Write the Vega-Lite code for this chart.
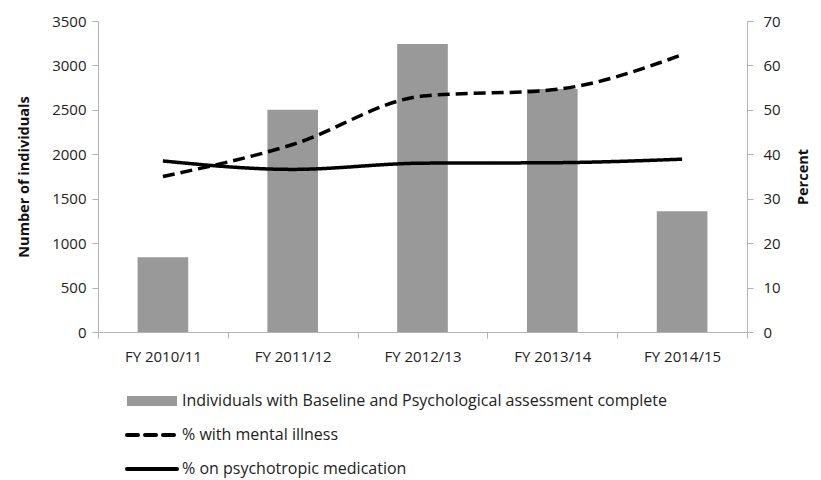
{
  "$schema": "https://vega.github.io/schema/vega-lite/v6.json",
  "autosize": "none",
  "width": 649,
  "height": 311,
  "padding": {"left": 98, "top": 21, "right": 74, "bottom": 148},
  "background": "white",
  "config": {
    "view": {"stroke": null},
    "font": "Open Sans",
    "axis": {
      "labelFont": "Open Sans",
      "labelFontSize": 15,
      "labelColor": "#222222",
      "titleFont": "Open Sans",
      "titleFontSize": 14.5,
      "titleFontWeight": "bold",
      "titleColor": "#111111",
      "domainColor": "#b3b3b3",
      "tickColor": "#b3b3b3",
      "tickSize": 6,
      "grid": false
    },
    "legend": {
      "labelFont": "Open Sans",
      "labelFontSize": 16,
      "labelColor": "#222222",
      "labelLimit": 0
    }
  },
  "datasets": {
    "bars": [
      {"year": "FY 2010/11", "series": "Individuals with Baseline and Psychological assessment complete", "n": 840},
      {"year": "FY 2011/12", "series": "Individuals with Baseline and Psychological assessment complete", "n": 2500},
      {"year": "FY 2012/13", "series": "Individuals with Baseline and Psychological assessment complete", "n": 3240},
      {"year": "FY 2013/14", "series": "Individuals with Baseline and Psychological assessment complete", "n": 2735},
      {"year": "FY 2014/15", "series": "Individuals with Baseline and Psychological assessment complete", "n": 1358}
    ],
    "lines": [
      {"year": "FY 2010/11", "series": "% with mental illness", "pct": 35.0},
      {"year": "FY 2011/12", "series": "% with mental illness", "pct": 42.2},
      {"year": "FY 2012/13", "series": "% with mental illness", "pct": 53.1},
      {"year": "FY 2013/14", "series": "% with mental illness", "pct": 54.5},
      {"year": "FY 2014/15", "series": "% with mental illness", "pct": 62.4},
      {"year": "FY 2010/11", "series": "% on psychotropic medication", "pct": 38.5},
      {"year": "FY 2011/12", "series": "% on psychotropic medication", "pct": 36.6},
      {"year": "FY 2012/13", "series": "% on psychotropic medication", "pct": 38.0},
      {"year": "FY 2013/14", "series": "% on psychotropic medication", "pct": 38.1},
      {"year": "FY 2014/15", "series": "% on psychotropic medication", "pct": 38.9}
    ]
  },
  "encoding": {
    "x": {
      "field": "year",
      "type": "nominal",
      "sort": null,
      "scale": {"paddingInner": 0, "paddingOuter": 0},
      "axis": {"title": null, "labelAngle": 0, "tickBand": "extent", "labelPadding": 11}
    }
  },
  "layer": [
    {
      "data": {"name": "bars"},
      "mark": {"type": "bar", "width": {"band": 0.39}, "color": "#999999"},
      "encoding": {
        "y": {
          "field": "n",
          "type": "quantitative",
          "scale": {"domain": [0, 3500]},
          "axis": {"title": "Number of individuals", "format": "d", "values": [0, 500, 1000, 1500, 2000, 2500, 3000, 3500], "labelPadding": 6, "titlePadding": 20}
        },
        "color": {
          "field": "series",
          "type": "nominal",
          "scale": {
            "domain": ["Individuals with Baseline and Psychological assessment complete", "% with mental illness", "% on psychotropic medication"],
            "range": ["#999999", "#000000", "#000000"]
          },
          "legend": {
            "title": null,
            "orient": "none",
            "legendX": 46,
            "legendY": 372,
            "direction": "vertical",
            "padding": 0,
            "symbolSize": 625,
            "labelOffset": 22,
            "rowPadding": 18,
            "encode": {
              "symbols": {
                "update": {
                  "shape": {"signal": "datum.value === 'Individuals with Baseline and Psychological assessment complete' ? 'M-2,-0.4H2V0.4H-2Z' : 'M-2,0H2'"},
                  "fill": {"signal": "datum.value === 'Individuals with Baseline and Psychological assessment complete' ? '#999999' : 'transparent'"},
                  "stroke": {"signal": "datum.value === 'Individuals with Baseline and Psychological assessment complete' ? 'transparent' : '#000000'"},
                  "strokeWidth": {"signal": "datum.value === 'Individuals with Baseline and Psychological assessment complete' ? 0 : 4"},
                  "strokeDash": {"signal": "datum.value === '% with mental illness' ? [11, 7] : [1, 0]"},
                  "strokeCap": {"value": "round"},
                  "opacity": {"value": 1}
                }
              }
            }
          }
        }
      }
    },
    {
      "data": {"name": "lines"},
      "mark": {"type": "line", "interpolate": "monotone", "strokeWidth": 3.5},
      "encoding": {
        "y": {
          "field": "pct",
          "type": "quantitative",
          "scale": {"domain": [0, 70]},
          "axis": {"title": "Percent", "orient": "right", "values": [0, 10, 20, 30, 40, 50, 60, 70], "titleAngle": 270, "labelPadding": 10, "titlePadding": 30}
        },
        "color": {"field": "series", "type": "nominal"},
        "detail": {"field": "series"},
        "strokeDash": {
          "field": "series",
          "type": "nominal",
          "scale": {"domain": ["% with mental illness", "% on psychotropic medication"], "range": [[12, 6], [1, 0]]},
          "legend": null
        }
      }
    }
  ],
  "resolve": {"scale": {"y": "independent"}}
}
